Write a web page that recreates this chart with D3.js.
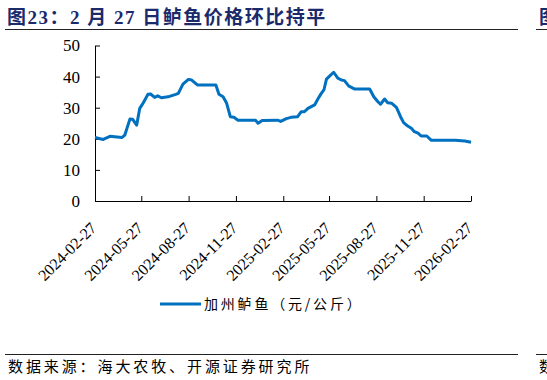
<!DOCTYPE html>
<html>
<head>
<meta charset="utf-8">
<script src="https://cdn.jsdelivr.net/npm/d3@7"></script>
<style>
  body { margin: 0; background: #fff; }
  svg text { font-family: "Liberation Serif", "Times New Roman", "Noto Sans CJK SC", serif; }
</style>
</head>
<body>
<svg id="chart" width="547" height="380"></svg>
<script>
// price of California bass, yuan/kg
var dates = [
  '2024-02-27', '2024-03-14', '2024-03-27', '2024-04-19', '2024-04-25', '2024-05-05',
  '2024-05-10', '2024-05-18', '2024-05-24', '2024-05-31', '2024-06-09', '2024-06-14',
  '2024-06-22', '2024-06-28', '2024-07-05', '2024-07-18', '2024-08-02', '2024-08-07',
  '2024-08-16', '2024-08-25', '2024-08-27', '2024-09-02', '2024-09-13', '2024-10-19',
  '2024-10-25', '2024-11-02', '2024-11-09', '2024-11-16', '2024-11-23', '2024-12-01',
  '2025-01-04', '2025-01-09', '2025-01-17', '2025-02-16', '2025-02-22', '2025-03-05',
  '2025-03-14', '2025-03-27', '2025-04-03', '2025-04-09', '2025-04-16', '2025-04-29',
  '2025-05-05', '2025-05-12', '2025-05-17', '2025-05-22', '2025-05-29', '2025-06-05',
  '2025-06-13', '2025-06-20', '2025-06-26', '2025-07-04', '2025-07-16', '2025-08-14',
  '2025-08-22', '2025-08-30', '2025-09-04', '2025-09-12', '2025-09-18', '2025-09-26',
  '2025-10-05', '2025-10-13', '2025-10-19', '2025-10-27', '2025-11-03', '2025-11-09',
  '2025-11-16', '2025-11-22', '2025-12-03', '2025-12-12', '2026-01-27', '2026-02-15',
  '2026-02-27'
];
var prices = [
  20.4, 19.8, 20.8, 20.4, 21.2, 26.4,
  26.3, 24.4, 29.8, 31.6, 34.3, 34.4,
  33.3, 33.8, 33.2, 33.5, 34.3, 34.6,
  37.6, 38.9, 39.1, 38.9, 37.3, 37.3,
  34.3, 33.5, 31.4, 27.1, 26.9, 26.0,
  26.0, 25.0, 25.9, 26.0, 25.6, 26.5,
  26.9, 27.1, 28.7, 28.7, 29.8, 30.9,
  32.7, 34.6, 35.7, 39.2, 40.3, 41.4,
  39.5, 38.9, 38.7, 37.0, 36.0, 36.0,
  33.5, 31.9, 31.1, 32.8, 31.6, 31.4,
  30.1, 27.1, 25.2, 24.1, 23.4, 22.3,
  21.8, 20.9, 20.9, 19.5, 19.5, 19.3,
  18.9
];
var tickDates = [
  '2024-02-27', '2024-05-27', '2024-08-27', '2024-11-27', '2025-02-27',
  '2025-05-27', '2025-08-27', '2025-11-27', '2026-02-27'
];
var yTicks = [0, 10, 20, 30, 40, 50];
var seriesName = '加州鲈鱼（元/公斤）';

var parse = d3.timeParse('%Y-%m-%d');
var fmt = d3.timeFormat('%Y-%m-%d');
var data = dates.map(function(d, i) { return { date: parse(d), value: prices[i] }; });

const svg = d3.select('#chart');
var navy = '#1b2a6b';
var blue = '#0070c0';

// title + rules
svg.append('text')
    .attr('x', 7)
    .attr('y', 24)
    .attr('fill', navy)
    .attr('font-size', 19)
    .attr('font-weight', 'bold')
    .attr('letter-spacing', 1.5)
    .text('图23：2 月 27 日鲈鱼价格环比持平');
svg.append('line')
    .attr('x1', 5).attr('x2', 518).attr('y1', 29.5).attr('y2', 29.5)
    .attr('stroke', '#222').attr('stroke-width', 1);
// edge of the neighbouring figure
svg.append('text')
    .attr('x', 539).attr('y', 24)
    .attr('fill', navy).attr('font-size', 19).attr('font-weight', 'bold')
    .text('图');
svg.append('line')
    .attr('x1', 536).attr('x2', 547).attr('y1', 29.5).attr('y2', 29.5)
    .attr('stroke', '#222');

var x = d3.scaleTime()
    .domain([parse(tickDates[0]), parse(tickDates[tickDates.length - 1])])
    .range([95, 471]);
var y = d3.scaleLinear()
    .domain([0, 50])
    .range([201, 45.5]);

var yAxis = d3.axisLeft(y)
    .tickValues(yTicks)
    .tickSizeInner(-5)
    .tickSizeOuter(0)
    .tickPadding(15);
var gy = svg.append('g')
    .attr('transform', 'translate(95,0)')
    .call(yAxis);
gy.selectAll('text').attr('font-size', 17).attr('fill', '#000')
    .style('font-family', '"Liberation Serif", serif');

var xAxis = d3.axisBottom(x)
    .tickValues(tickDates.map(parse))
    .tickFormat(fmt)
    .tickSizeInner(-5)
    .tickSizeOuter(0);
var gx = svg.append('g')
    .attr('transform', 'translate(0,201)')
    .call(xAxis);
gx.selectAll('text')
    .attr('x', 0).attr('y', 0).attr('dy', 0)
    .attr('transform', 'translate(2,28) rotate(-45)')
    .attr('font-size', 16)
    .attr('fill', '#000')
    .style('text-anchor', 'end')
    .style('font-family', '"Liberation Serif", serif');
svg.selectAll('.domain, .tick line').attr('stroke', '#000');

// the series
var line = d3.line()
    .x(function(d) { return x(d.date); })
    .y(function(d) { return y(d.value); });
svg.append('path')
    .datum(data)
    .attr('d', line)
    .attr('fill', 'none')
    .attr('stroke', blue)
    .attr('stroke-width', 3)
    .attr('stroke-linejoin', 'round');

// legend
svg.append('line')
    .attr('x1', 160).attr('x2', 201).attr('y1', 304).attr('y2', 304)
    .attr('stroke', blue).attr('stroke-width', 3);
svg.append('text')
    .attr('x', 204).attr('y', 309)
    .attr('font-size', 14)
    .attr('letter-spacing', 2.8)
    .style('font-family', '"Noto Sans CJK SC", sans-serif')
    .text(seriesName);

// source
svg.append('line')
    .attr('x1', 5).attr('x2', 518).attr('y1', 354.5).attr('y2', 354.5)
    .attr('stroke', '#222');
svg.append('line')
    .attr('x1', 536).attr('x2', 547).attr('y1', 354.5).attr('y2', 354.5)
    .attr('stroke', '#222');
svg.append('text')
    .attr('x', 8).attr('y', 372)
    .attr('font-size', 15)
    .attr('letter-spacing', 2.9)
    .style('font-family', '"Noto Sans CJK SC", sans-serif')
    .text('数据来源：海大农牧、开源证券研究所');
svg.append('text')
    .attr('x', 539).attr('y', 372)
    .attr('font-size', 15)
    .style('font-family', '"Noto Sans CJK SC", sans-serif')
    .text('数');
</script>
</body>
</html>
